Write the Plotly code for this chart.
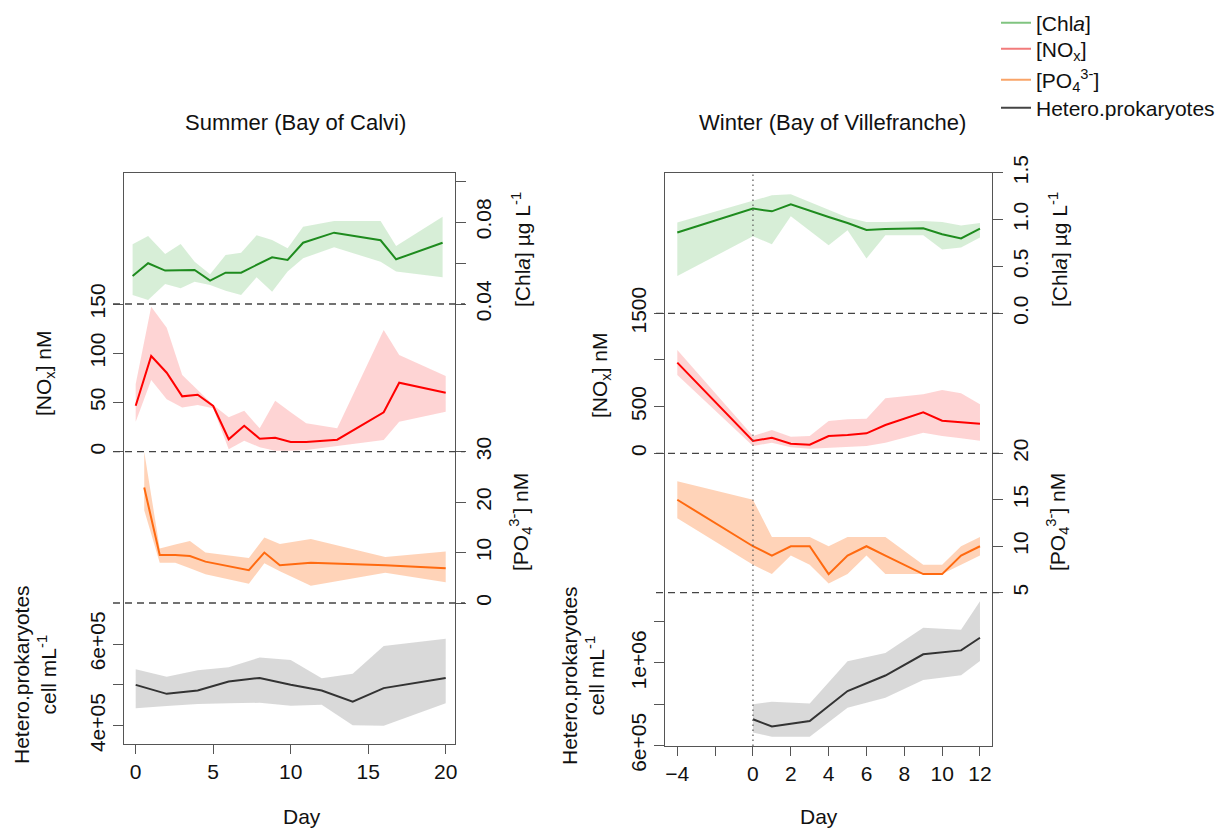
import plotly.graph_objects as go

# page body has an 8px margin: the figure is drawn inside it
PAGE_W, PAGE_H, BODY = 1225, 829, 8
W, H = PAGE_W - 2 * BODY, PAGE_H - BODY

# ---------------- data: Summer (Bay of Calvi) ----------------
s_chla_day = [-0.2, 0.8, 1.9, 2.9, 3.8, 4.8, 5.8, 6.8, 7.8, 8.8, 9.8, 10.8, 12.8, 15.8, 16.8, 19.8]
s_chla = [0.0537, 0.0599, 0.0563, 0.0566, 0.0566, 0.0514, 0.0553, 0.0553, 0.0589, 0.0628, 0.0615, 0.0699, 0.0748, 0.0711, 0.0618, 0.0699]
s_chla_hi = [0.0691, 0.0732, 0.0644, 0.0693, 0.0606, 0.0545, 0.0639, 0.0650, 0.0735, 0.0712, 0.0672, 0.0777, 0.0805, 0.0805, 0.0683, 0.0826]
s_chla_lo = [0.0444, 0.0420, 0.0498, 0.0477, 0.0509, 0.0493, 0.0465, 0.0444, 0.0530, 0.0460, 0.0558, 0.0623, 0.0677, 0.0606, 0.0558, 0.0530]

s_nox_day = [0, 1, 2, 3, 4, 5, 6, 7, 8, 9, 10, 11, 13, 16, 17, 20]
s_nox = [46.7, 97.2, 80.2, 56.2, 57.9, 46.4, 12.6, 26.4, 13.2, 14.2, 9.8, 9.8, 12.2, 40.0, 70.1, 59.9]
s_nox_hi = [68.7, 147.3, 125.9, 77.9, 62.6, 47.4, 34.9, 41.6, 23.7, 51.8, 40.0, 28.8, 23.7, 123.6, 98.2, 76.9]
s_nox_lo = [30.5, 72.8, 53.2, 45.0, 47.4, 44.0, 2.4, 11.2, 4.5, 1.0, 1.0, 1.7, 5.8, 11.9, 30.5, 40.6]

s_po4_day = [0.55, 1.55, 2.55, 3.5, 4.5, 7.3, 8.3, 9.3, 11.3, 16.1, 20.0]
s_po4 = [22.9, 9.5, 9.5, 9.3, 8.2, 6.5, 10.0, 7.5, 8.0, 7.5, 6.9]
s_po4_hi = [30.0, 10.8, 11.6, 12.3, 10.0, 8.9, 13.0, 11.7, 12.7, 9.1, 10.2]
s_po4_lo = [18.4, 8.0, 8.0, 6.9, 5.7, 3.8, 7.9, 6.3, 3.4, 6.0, 4.1]

s_bac_day = [0, 2, 4, 6, 8, 10, 12, 14, 16, 20]
s_bac = [5.00e5, 4.78e5, 4.86e5, 5.08e5, 5.17e5, 5.00e5, 4.86e5, 4.59e5, 4.92e5, 5.17e5]
s_bac_hi = [5.38e5, 5.20e5, 5.36e5, 5.43e5, 5.67e5, 5.61e5, 5.16e5, 5.27e5, 5.95e5, 6.13e5]
s_bac_lo = [4.43e5, 4.48e5, 4.53e5, 4.55e5, 4.56e5, 4.49e5, 4.51e5, 4.01e5, 4.00e5, 4.55e5]

# ---------------- data: Winter (Bay of Villefranche) ----------------
w_chla_day = [-4, 0, 1, 2, 4, 5, 6, 7, 9, 10, 11, 12]
w_chla = [0.862, 1.117, 1.088, 1.163, 1.028, 0.964, 0.889, 0.900, 0.907, 0.844, 0.798, 0.904]
w_chla_hi = [0.968, 1.198, 1.259, 1.269, 1.106, 1.021, 0.974, 0.974, 0.985, 0.974, 0.936, 0.964]
w_chla_lo = [0.397, 0.822, 0.737, 1.035, 0.727, 0.886, 0.585, 0.833, 0.833, 0.681, 0.702, 0.809]

w_nox_day = [-4, 0, 1, 2, 3, 4, 5, 6, 7, 9, 10, 11, 12]
w_nox = [971, 132, 167, 103, 92, 185, 196, 214, 303, 439, 349, 332, 317]
w_nox_hi = [1107, 185, 250, 178, 185, 346, 364, 371, 589, 632, 678, 643, 525]
w_nox_lo = [839, 78, 114, 64, 50, 64, 71, 78, 114, 221, 185, 161, 135]

w_po4_day = [-4, 0, 1, 2, 3, 4, 5, 6, 7, 9, 10, 11, 12]
w_po4 = [15, 10, 9, 10, 10, 7, 9, 10, 9, 7, 7, 9, 10]
w_po4_hi = [17, 15, 11, 11, 11, 10, 11, 11, 11, 8, 8, 10, 11]
w_po4_lo = [13, 8, 7, 9, 8, 6, 7, 9, 7, 7, 7, 8, 9]

w_bac_day = [0, 1, 3, 5, 7, 9, 11, 12]
w_bac = [7.27e5, 6.92e5, 7.19e5, 8.64e5, 9.39e5, 1.042e6, 1.061e6, 1.122e6]
w_bac_hi = [8.00e5, 8.12e5, 8.04e5, 1.008e6, 1.048e6, 1.171e6, 1.161e6, 1.299e6]
w_bac_lo = [6.63e5, 6.43e5, 6.43e5, 7.83e5, 8.31e5, 9.17e5, 9.41e5, 1.010e6]

# ---------------- tick labels ----------------
s_x_ticks = [0, 5, 10, 15, 20]
s_x_text = ["0", "5", "10", "15", "20"]
w_x_ticks = [-4, -2, 0, 2, 4, 6, 8, 10, 12]
w_x_text = ["\u22124", "", "0", "2", "4", "6", "8", "10", "12"]

s_chla_ticks = [0.04, 0.06, 0.08, 0.10]
s_chla_text = ["0.04", "", "0.08", ""]
s_nox_ticks = [0, 50, 100, 150]
s_nox_text = ["0", "50", "100", "150"]
s_po4_ticks = [0, 10, 20, 30]
s_po4_text = ["0", "10", "20", "30"]
s_bac_ticks = [4e5, 5e5, 6e5]
s_bac_text = ["4e+05", "", "6e+05"]

w_chla_ticks = [0.0, 0.5, 1.0, 1.5]
w_chla_text = ["0.0", "0.5", "1.0", "1.5"]
w_nox_ticks = [0, 500, 1000, 1500]
w_nox_text = ["0", "500", "", "1500"]
w_po4_ticks = [5, 10, 15, 20]
w_po4_text = ["5", "10", "15", "20"]
w_bac_ticks = [6e5, 8e5, 1.0e6, 1.2e6]
w_bac_text = ["6e+05", "", "1e+06", ""]

# ---------------- styles ----------------
FONT = "Liberation Sans, Arial, Helvetica, sans-serif"
FS = 21
AX = "#555555"
COL = {
    "chla": ("#1e8b1e", "rgba(34,160,34,0.18)", "#80c480"),
    "nox": ("#ff0000", "rgba(250,60,60,0.22)", "#f27b7b"),
    "po4": ("#ff6a10", "rgba(255,120,40,0.33)", "#f9a468"),
    "bac": ("#333333", "rgba(150,150,150,0.36)", "#444444"),
}


def X(px):
    return (px - BODY) / W


def Y(py):
    return 1 - (py - BODY) / H


def rng(v0, p0, v1, p1, top, bot):
    s = (v1 - v0) / (p0 - p1)
    return [v0 - (bot - p0) * s, v0 + (p0 - top) * s]


fig = go.Figure()


def band(day, lo, hi, mid, key, xa, ya):
    line_c, fill_c, _ = COL[key]
    fig.add_trace(go.Scatter(
        x=list(day) + list(day)[::-1], y=list(hi) + list(lo)[::-1],
        fill="toself", fillcolor=fill_c, line=dict(width=0),
        mode="lines", hoverinfo="skip", showlegend=False, xaxis=xa, yaxis=ya))
    fig.add_trace(go.Scatter(
        x=day, y=mid, mode="lines", line=dict(color=line_c, width=2),
        showlegend=False, xaxis=xa, yaxis=ya))


# empty traces so both frame subplots exist
fig.add_trace(go.Scatter(x=[None], y=[None], showlegend=False, hoverinfo="skip", xaxis="x", yaxis="y"))
fig.add_trace(go.Scatter(x=[None], y=[None], showlegend=False, hoverinfo="skip", xaxis="x2", yaxis="y6"))

# summer panel: x / y(frame) / y2 chla / y3 nox / y4 po4 / y5 bact
band(s_chla_day, s_chla_lo, s_chla_hi, s_chla, "chla", "x", "y2")
band(s_nox_day, s_nox_lo, s_nox_hi, s_nox, "nox", "x", "y3")
band(s_po4_day, s_po4_lo, s_po4_hi, s_po4, "po4", "x", "y4")
band(s_bac_day, s_bac_lo, s_bac_hi, s_bac, "bac", "x", "y5")
# winter panel: x2 / y6(frame) / y7 chla / y8 nox / y9 po4 / y10 bact
band(w_chla_day, w_chla_lo, w_chla_hi, w_chla, "chla", "x2", "y7")
band(w_nox_day, w_nox_lo, w_nox_hi, w_nox, "nox", "x2", "y8")
band(w_po4_day, w_po4_lo, w_po4_hi, w_po4, "po4", "x2", "y9")
band(w_bac_day, w_bac_lo, w_bac_hi, w_bac, "bac", "x2", "y10")

# legend entries (one small legend per entry, stacked like the reference)
legend_names = ["[Chl<i>a</i>]", "[NO<sub>x</sub>]", "[PO<sub>4</sub><sup>3-</sup>]", "Hetero.prokaryotes"]
legend_ids = ["legend", "legend2", "legend3", "legend4"]
legend_rows = [23, 49, 80, 108]
for name, key, lid in zip(legend_names, ["chla", "nox", "po4", "bac"], legend_ids):
    fig.add_trace(go.Scatter(x=[None], y=[None], mode="lines", name=name,
                             line=dict(color=COL[key][2], width=2),
                             xaxis="x", yaxis="y", legend=lid))

# geometry (pixels on page)
L_left, L_right, L_top, L_bot = 124, 455, 173, 744
R_left, R_right, R_top, R_bot = 665, 991.7, 172.5, 746

tickfont = dict(family=FONT, size=FS, color="#111111")


def xax(domain, rngx, tv, tt, anchor):
    return dict(domain=domain, range=rngx, anchor=anchor, tickvals=tv, ticktext=tt,
                ticks="outside", ticklen=9, tickcolor=AX, tickwidth=1,
                showline=True, mirror=True, linecolor=AX, linewidth=1,
                showgrid=False, zeroline=False, tickfont=tickfont)


def frame(domain, anchor):
    return dict(domain=domain, range=[0, 1], anchor=anchor, showline=True, mirror=True,
                linecolor=AX, linewidth=1, showgrid=False, zeroline=False,
                showticklabels=False, ticks="")


def yax(domain, side, r, tv, tt, anchor):
    return dict(domain=domain, side=side, anchor=anchor, range=r,
                tickvals=tv, ticktext=tt, tickangle=-90,
                ticks="outside", ticklen=10, tickcolor=AX, tickwidth=1,
                showline=False, showgrid=False, zeroline=False, tickfont=tickfont)


Lx = [X(L_left), X(L_right)]
Ly = [Y(L_bot), Y(L_top)]
Rx = [X(R_left), X(R_right)]
Ry = [Y(R_bot), Y(R_top)]

fig.update_layout(
    xaxis=xax(Lx, [-0.755, 20.6], s_x_ticks, s_x_text, "y"),
    yaxis=frame(Ly, "x"),
    yaxis2=yax(Ly, "right", rng(0.04, 304, 0.10, 181, L_top, L_bot), s_chla_ticks, s_chla_text, "x"),
    yaxis3=yax(Ly, "left", rng(0, 451.7, 150, 304, L_top, L_bot), s_nox_ticks, s_nox_text, "x"),
    yaxis4=yax(Ly, "right", rng(0, 603, 30, 451.7, L_top, L_bot), s_po4_ticks, s_po4_text, "x"),
    yaxis5=yax(Ly, "left", rng(4e5, 725.7, 6e5, 644, L_top, L_bot), s_bac_ticks, s_bac_text, "x"),
    xaxis2=xax(Rx, [-4.65, 12.62], w_x_ticks, w_x_text, "y6"),
    yaxis6=frame(Ry, "x2"),
    yaxis7=yax(Ry, "right", rng(0.0, 313.3, 1.5, 172.7, R_top, R_bot), w_chla_ticks, w_chla_text, "x2"),
    yaxis8=yax(Ry, "left", rng(0, 453.3, 1500, 313.3, R_top, R_bot), w_nox_ticks, w_nox_text, "x2"),
    yaxis9=yax(Ry, "right", rng(5, 592.7, 20, 453.3, R_top, R_bot), w_po4_ticks, w_po4_text, "x2"),
    yaxis10=yax(Ry, "left", rng(6e5, 745.5, 1.2e6, 621.7, R_top, R_bot), w_bac_ticks, w_bac_text, "x2"),
)

# dashed separators and day-0 dotted line
shapes = []
ext_l = (L_left - 113) / (L_right - L_left)
ext_r = (465 - L_right) / (L_right - L_left)
for yref, val in [("y3", 150), ("y3", 0), ("y4", 0)]:
    shapes.append(dict(type="line", xref="x domain", yref=yref, x0=-ext_l, x1=1 + ext_r,
                       y0=val, y1=val, line=dict(color="#444444", width=1.3, dash="7px,5px")))
ext_l2 = (R_left - 656) / (R_right - R_left)
ext_r2 = (1003 - R_right) / (R_right - R_left)
for yref, val in [("y8", 1500), ("y8", 0), ("y9", 5)]:
    shapes.append(dict(type="line", xref="x2 domain", yref=yref, x0=-ext_l2, x1=1 + ext_r2,
                       y0=val, y1=val, line=dict(color="#444444", width=1.3, dash="7px,5px")))
shapes.append(dict(type="line", xref="x2", yref="y6 domain", x0=0, x1=0, y0=0, y1=1,
                   line=dict(color="#555555", width=1.2, dash="1.5px,3.5px")))

# annotations (titles / axis labels)
ann = []


def A(text, px, py, angle=0, size=FS):
    ann.append(dict(text=text, x=X(px), y=Y(py), xref="paper", yref="paper",
                    showarrow=False, textangle=angle,
                    font=dict(family=FONT, size=size, color="#111111"),
                    xanchor="center", yanchor="middle"))


A("Summer (Bay of Calvi)", 295, 123, size=22)
A("Winter (Bay of Villefranche)", 832, 123, size=22)
A("Day", 302, 816)
A("Day", 819, 816)
A("[NO<sub>x</sub>] nM", 45, 373, -90)
A("[NO<sub>x</sub>] nM", 601, 375, -90)
A("Hetero.prokaryotes<br>cell mL<sup>-1</sup>", 35, 675, -90)
A("Hetero.prokaryotes<br>cell mL<sup>-1</sup>", 583, 676, -90)
A("[Chl<i>a</i>] \u00b5g L<sup>-1</sup>", 521, 250, -90)
A("[PO<sub>4</sub><sup>3-</sup>] nM", 520, 522, -90)
A("[Chl<i>a</i>] \u00b5g L<sup>-1</sup>", 1058, 250, -90)
A("[PO<sub>4</sub><sup>3-</sup>] nM", 1057, 522, -90)

legend_layout = {}
for lid, row in zip(legend_ids, legend_rows):
    legend_layout[lid] = dict(x=X(996), y=Y(row), xanchor="left", yanchor="middle",
                              bgcolor="rgba(0,0,0,0)", borderwidth=0,
                              font=dict(family=FONT, size=FS, color="#111111"),
                              itemwidth=30, tracegroupgap=0)

fig.update_layout(
    width=W, height=H, margin=dict(l=0, r=0, t=0, b=0, autoexpand=False),
    paper_bgcolor="white", plot_bgcolor="rgba(0,0,0,0)",
    font=dict(family=FONT, size=FS, color="#111111"),
    shapes=shapes, annotations=ann,
    showlegend=True,
    **legend_layout,
)

fig.write_html("out.html")
